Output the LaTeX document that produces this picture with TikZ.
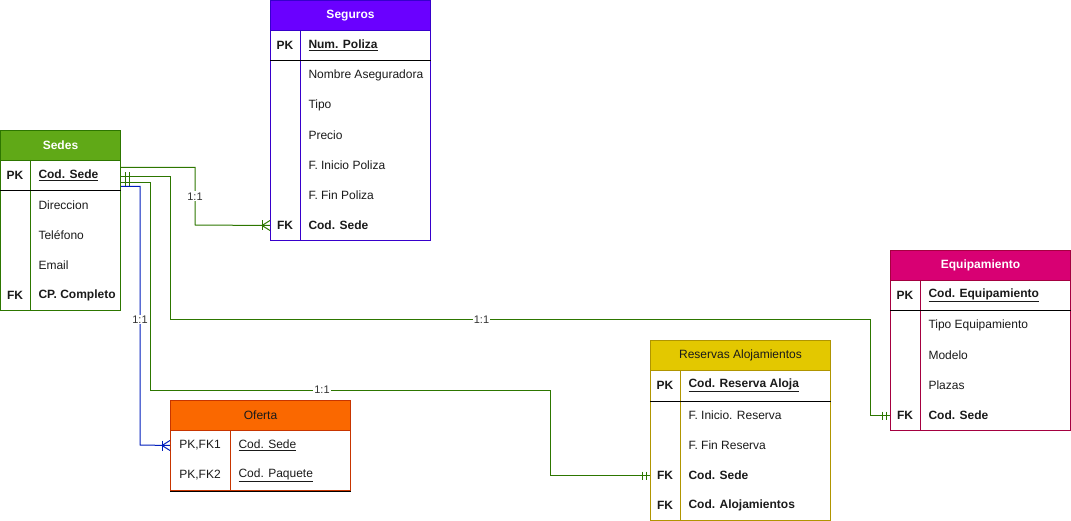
\documentclass[tikz,border=0pt]{standalone}
\usepackage{fontspec}
\setmainfont{Liberation Sans}
\definecolor{txt}{HTML}{1A1A1A}
\definecolor{lblc}{HTML}{333333}
\definecolor{conng}{HTML}{2D7600}
\definecolor{connb}{HTML}{001DBC}
\definecolor{sedesF}{HTML}{60A917}\definecolor{sedesD}{HTML}{2D7600}
\definecolor{segF}{HTML}{6A00FF}\definecolor{segD}{HTML}{3700CC}
\definecolor{eqF}{HTML}{D80073}\definecolor{eqD}{HTML}{A50040}
\definecolor{resF}{HTML}{E3C800}\definecolor{resD}{HTML}{B09500}
\definecolor{ofF}{HTML}{FA6800}\definecolor{ofD}{HTML}{C73500}
\tikzset{
  hdr/.style={draw, anchor=north west, inner sep=0pt, minimum height=30pt, font=\fontsize{12}{14}\selectfont},
  tbody/.style={draw, anchor=north west, inner sep=0pt},
  rowbox/.style={anchor=north west, inner sep=0pt, minimum height=30pt},
  keyt/.style={inner sep=0pt, text=txt, font=\fontsize{12}{14}\selectfont},
  attrt/.style={anchor=west, inner sep=0pt, text=txt, font=\fontsize{12}{14}\selectfont},
  gline/.style={draw=conng, line width=1pt},
  bline/.style={draw=connb, line width=1pt},
  lbl/.style={fill=white, inner sep=1pt, text=lblc, font=\fontsize{11}{13}\selectfont},
  sepline/.style={draw=black, line width=1pt},
}
% name, x, y, width, key column width, key, attribute
\newcommand\ERrow[7]{%
  \node[rowbox, minimum width=#4pt] (#1) at (#2,#3) {};
  \node[keyt] (#1k) at ([xshift=#5pt*0.5]#1.west) {#6};
  \node[attrt] (#1a) at ([xshift=#5pt+8pt]#1.west) {#7};
}
\newcommand\ul[1]{\underline{#1}}
\begin{document}
\begin{tikzpicture}[x=1pt,y=-1pt, line width=1pt]
\useasboundingbox (0,0) rectangle (1071,521);

% ---------------- Sedes
\node[hdr, fill=sedesF, draw=sedesD, minimum width=120pt, text=white, font=\bfseries\fontsize{12}{14}\selectfont] (sedes) at (0,130) {Sedes};
\node[tbody, draw=sedesD, minimum width=120pt, minimum height=150pt] (sedesbody) at (0,160) {};
\draw[draw=sedesD] (30,160) -- (30,310);
\ERrow{sedespk}{0}{160}{120}{30}{\textbf{PK}}{\textbf{\ul{Cod. Sede}}}
\ERrow{sedes2}{0}{190}{120}{30}{}{Direccion}
\ERrow{sedes3}{0}{220}{120}{30}{}{Teléfono}
\ERrow{sedes4}{0}{250}{120}{30}{}{Email}
\ERrow{sedes5}{0}{280}{120}{30}{\textbf{FK}}{\textbf{CP. Completo}}
\draw[sepline] (sedespk.south west) -- (sedespk.south east);

% ---------------- Seguros
\node[hdr, fill=segF, draw=segD, minimum width=160pt, text=white, font=\bfseries\fontsize{12}{14}\selectfont] (seg) at (270,0) {Seguros};
\node[tbody, draw=segD, minimum width=160pt, minimum height=210pt] (segbody) at (270,30) {};
\draw[draw=segD] (300,30) -- (300,240);
\ERrow{segpk}{270}{30}{160}{30}{\textbf{PK}}{\textbf{\ul{Num. Poliza}}}
\ERrow{seg2}{270}{60}{160}{30}{}{Nombre Aseguradora}
\ERrow{seg3}{270}{90}{160}{30}{}{Tipo}
\ERrow{seg4}{270}{120}{160}{30}{}{Precio}
\ERrow{seg5}{270}{150}{160}{30}{}{F. Inicio Poliza}
\ERrow{seg6}{270}{180}{160}{30}{}{F. Fin Poliza}
\ERrow{segfk}{270}{210}{160}{30}{\textbf{FK}}{\textbf{Cod. Sede}}
\draw[sepline] (segpk.south west) -- (segpk.south east);

% ---------------- Equipamiento
\node[hdr, fill=eqF, draw=eqD, minimum width=180pt, text=white, font=\bfseries\fontsize{12}{14}\selectfont] (eq) at (890,250) {Equipamiento};
\node[tbody, draw=eqD, minimum width=180pt, minimum height=150pt] (eqbody) at (890,280) {};
\draw[draw=eqD] (920,280) -- (920,430);
\ERrow{eqpk}{890}{280}{180}{30}{\textbf{PK}}{\textbf{\ul{Cod. Equipamiento}}}
\ERrow{eq2}{890}{310}{180}{30}{}{Tipo Equipamiento}
\ERrow{eq3}{890}{340}{180}{30}{}{Modelo}
\ERrow{eq4}{890}{370}{180}{30}{}{Plazas}
\ERrow{eqfk}{890}{400}{180}{30}{\textbf{FK}}{\textbf{Cod. Sede}}
\draw[sepline] (eqpk.south west) -- (eqpk.south east);

% ---------------- Reservas Alojamientos
\node[hdr, fill=resF, draw=resD, minimum width=180pt, text=txt] (res) at (650,340) {Reservas Alojamientos};
\node[tbody, draw=resD, minimum width=180pt, minimum height=150pt] (resbody) at (650,370) {};
\draw[draw=resD] (680,370) -- (680,520);
\ERrow{respk}{650}{370}{180}{30}{\textbf{PK}}{\textbf{\ul{Cod. Reserva Aloja}}}
\ERrow{res2}{650}{400}{180}{30}{}{F. Inicio. Reserva}
\ERrow{res3}{650}{430}{180}{30}{}{F. Fin Reserva}
\ERrow{resfk}{650}{460}{180}{30}{\textbf{FK}}{\textbf{Cod. Sede}}
\ERrow{resfk2}{650}{490}{180}{30}{\textbf{FK}}{\textbf{Cod. Alojamientos}}
\draw[sepline] (respk.south west) -- (respk.south east);

% ---------------- Oferta
\node[hdr, fill=ofF, draw=ofD, minimum width=180pt, text=txt] (of) at (170,400) {Oferta};
\node[tbody, draw=ofD, minimum width=180pt, minimum height=60pt] (ofbody) at (170,430) {};
\draw[draw=ofD] (230,430) -- (230,490);
\ERrow{ofpk1}{170}{430}{180}{60}{PK,FK1}{\ul{Cod. Sede}}
\ERrow{ofpk2}{170}{460}{180}{60}{PK,FK2}{\ul{Cod. Paquete}}
\draw[sepline] (ofpk2.south west) -- (ofpk2.south east);

% ---------------- Connectors
% Sedes -> Seguros
\draw[gline] ([yshift=8pt]sedespk.east) -| (195,225) node[lbl, pos=0.75] {1:1} -- (segfk.west);
\draw[gline] ([xshift=-8pt,yshift=5pt]segfk.west) -- ([xshift=-8pt,yshift=-5pt]segfk.west);
\draw[gline] ([yshift=5pt]segfk.west) -- ([xshift=-8pt]segfk.west) -- ([yshift=-5pt]segfk.west);

% Sedes -> Equipamiento
\draw[gline] ([yshift=-1pt]sedespk.east) -| (170,320) -- (870,320) node[lbl, pos=0.445] {1:1} |- (eqfk.west);
\draw[gline] ([xshift=4pt,yshift=3pt]sedespk.east) -- ([xshift=4pt,yshift=-5pt]sedespk.east);
\draw[gline] ([xshift=8pt,yshift=3pt]sedespk.east) -- ([xshift=8pt,yshift=-5pt]sedespk.east);
\draw[gline] ([xshift=-8pt,yshift=4pt]eqfk.west) -- ([xshift=-8pt,yshift=-4pt]eqfk.west);
\draw[gline] ([xshift=-4pt,yshift=4pt]eqfk.west) -- ([xshift=-4pt,yshift=-4pt]eqfk.west);

% Sedes -> Reservas
\draw[gline] ([yshift=-7pt]sedespk.east) -| (150,390) -- (550,390) node[lbl, pos=0.43] {1:1} |- (resfk.west);
\draw[gline] ([xshift=4pt,yshift=-3pt]sedespk.east) -- ([xshift=4pt,yshift=-11pt]sedespk.east);
\draw[gline] ([xshift=8pt,yshift=-3pt]sedespk.east) -- ([xshift=8pt,yshift=-11pt]sedespk.east);
\draw[gline] ([xshift=-8pt,yshift=4pt]resfk.west) -- ([xshift=-8pt,yshift=-4pt]resfk.west);
\draw[gline] ([xshift=-4pt,yshift=4pt]resfk.west) -- ([xshift=-4pt,yshift=-4pt]resfk.west);

% Sedes -> Oferta
\draw[bline] ([yshift=-11pt]sedespk.east) -| (140,445) node[lbl, pos=0.757] {1:1} -- (ofpk1.west);
\draw[bline] ([xshift=-8pt,yshift=5pt]ofpk1.west) -- ([xshift=-8pt,yshift=-5pt]ofpk1.west);
\draw[bline] ([yshift=5pt]ofpk1.west) -- ([xshift=-8pt]ofpk1.west) -- ([yshift=-5pt]ofpk1.west);
\end{tikzpicture}
\end{document}
